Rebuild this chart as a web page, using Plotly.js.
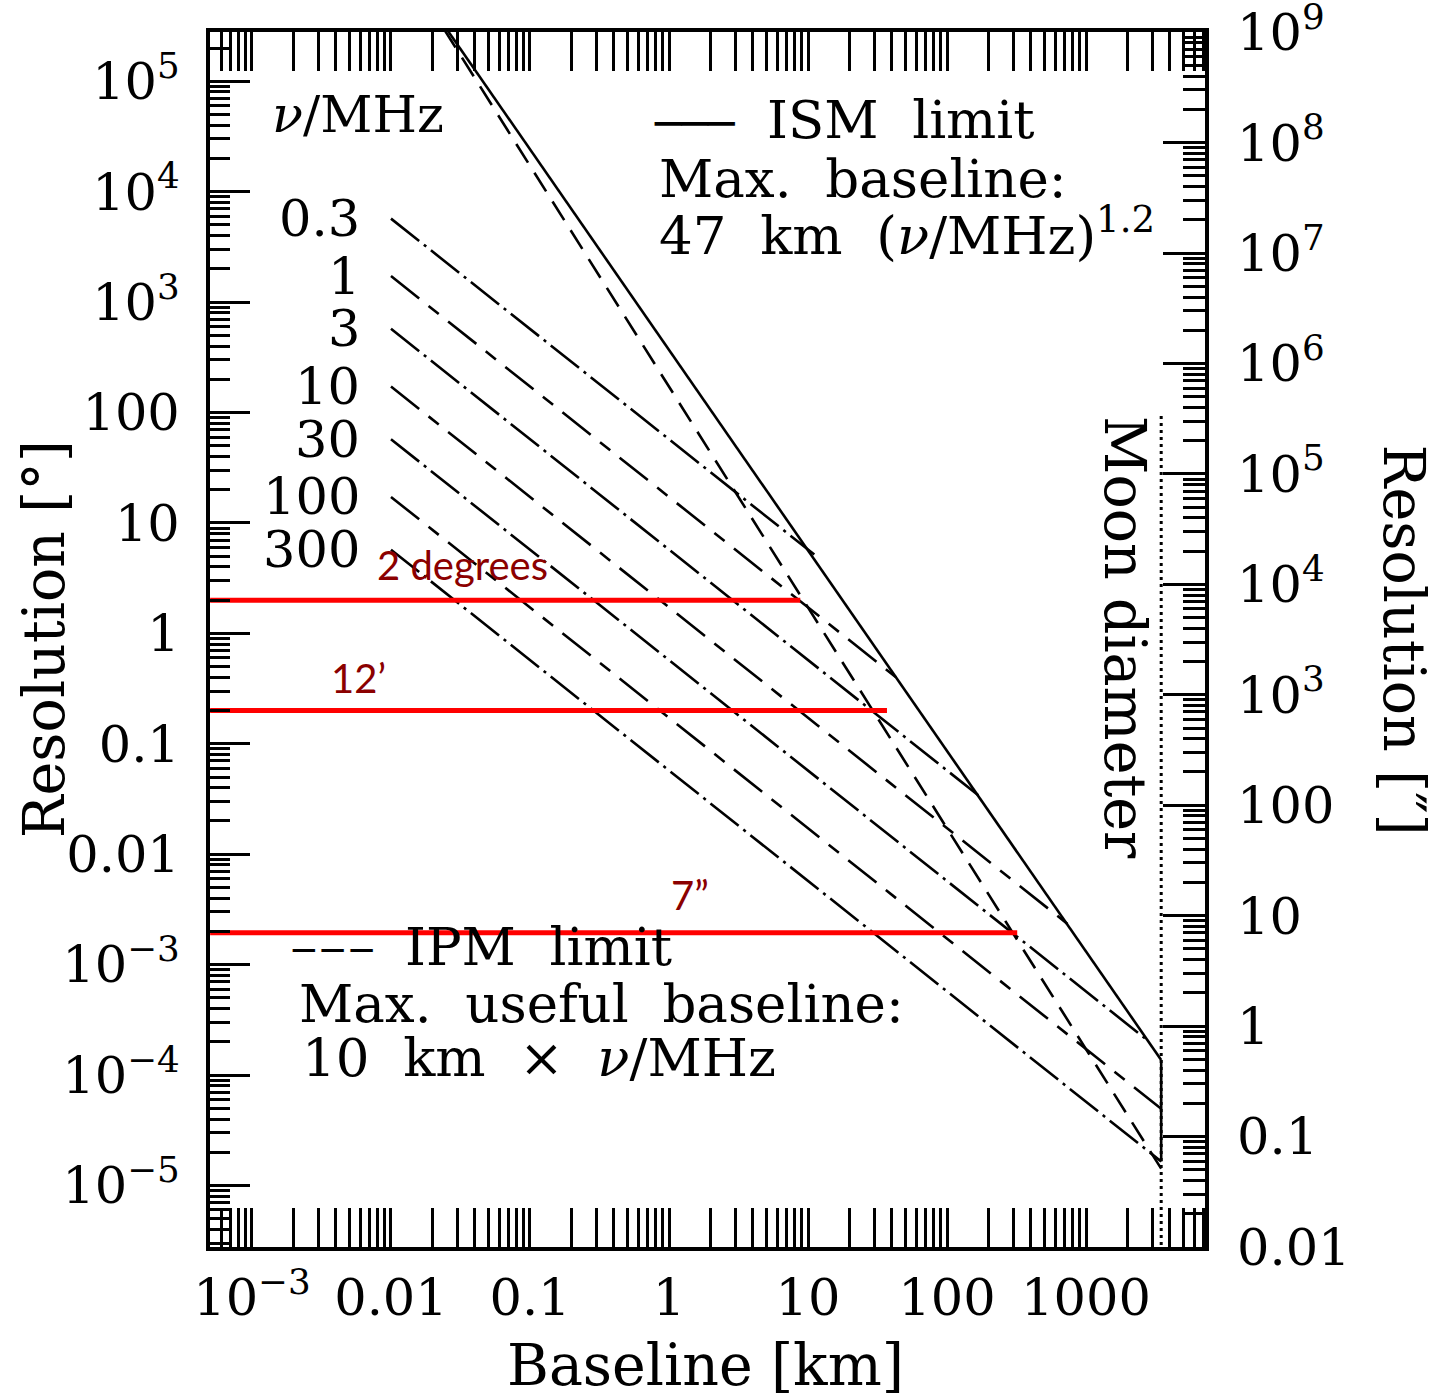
<!DOCTYPE html>
<html>
<head>
<meta charset="utf-8">
<script src="https://cdn.plot.ly/plotly-3.0.1.min.js"></script>
<style>html,body{margin:0;padding:0;background:#fff;}#chart{width:1441px;height:1399px;}</style>
</head>
<body>
<div id="chart"></div>
<script>
// ---- data ----
const freqMHz      = [0.3, 1, 3, 10, 30, 100, 300];
const freqLabels   = ['0.3', '1', '3', '10', '30', '100', '300'];
const lineStartKm  = [0.01, 0.01, 0.01, 0.01, 0.01, 0.01, 0.01];
const lineStartDeg = [5700, 1720, 573, 172, 57.3, 17.2, 5.73];
const lineEndKm    = [11.1, 47, 176, 745, 2790, 3474, 3474];
const lineEndDeg   = [5.17, 0.366, 0.0326, 0.00231, 2.05e-4, 4.95e-5, 1.65e-5];

const ismKm  = [0.025, 3474];
const ismDeg = [3.0e5, 1.37e-4];
const ipmKm  = [0.024, 3474];
const ipmDeg = [2.98e5, 1.42e-5];
const moonKm = 3474;
const moonSolidDeg  = [1.37e-4, 1.65e-5];
const moonDottedDeg = [93, 2.8e-6];

const redDeg     = [2, 0.2, 0.00194];
const redStartKm = [5e-4, 5e-4, 5e-4];
const redEndKm   = [8.8, 37, 320];
const redLabels  = ['2 degrees', '12’', '7”'];

const xTickVals = [1e-3, 1e-2, 0.1, 1, 10, 100, 1000];
const xTickText = ['10<sup>−3</sup>', '0.01', '0.1', '1', '10', '100', '1000'];
const yTickVals = [1e-5, 1e-4, 1e-3, 1e-2, 0.1, 1, 10, 100, 1e3, 1e4, 1e5];
const yTickText = ['10<sup>−5</sup>', '10<sup>−4</sup>', '10<sup>−3</sup>', '0.01', '0.1', '1', '10', '100', '10<sup>3</sup>', '10<sup>4</sup>', '10<sup>5</sup>'];
const y2TickVals = [0.01, 0.1, 1, 10, 100, 1e3, 1e4, 1e5, 1e6, 1e7, 1e8, 1e9];
const y2TickText = ['0.01', '0.1', '1', '10', '100', '10<sup>3</sup>', '10<sup>4</sup>', '10<sup>5</sup>', '10<sup>6</sup>', '10<sup>7</sup>', '10<sup>8</sup>', '10<sup>9</sup>'];

// ---- chart ----
const SERIF = 'DejaVu Serif, Liberation Serif, serif';
const xRange = [-3.302, 3.856];
const yRange = [-5.557, 5.446];
const ARCSEC = Math.log10(3600);
const y2Range = [yRange[0] + ARCSEC, yRange[1] + ARCSEC];

function minorVals(lo, hi) {
  const v = [];
  for (let e = Math.floor(lo) - 1; e <= Math.ceil(hi); e++) {
    for (let d = 2; d <= 9; d++) v.push(d * Math.pow(10, e));
  }
  return v;
}

const DASH_DOT = '36px,6px,3px,6px';
const LONG_SHORT = '36px,12px,13px,12px';

const traces = [];
freqMHz.forEach((f, i) => {
  traces.push({
    x: [lineStartKm[i], lineEndKm[i]],
    y: [lineStartDeg[i], lineEndDeg[i]],
    mode: 'lines', name: freqLabels[i] + ' MHz', showlegend: false, hoverinfo: 'skip',
    line: {color: '#000', width: 2.6, dash: i % 2 === 0 ? DASH_DOT : LONG_SHORT}
  });
});
traces.push({x: ismKm, y: ismDeg, mode: 'lines', showlegend: false, hoverinfo: 'skip',
  line: {color: '#000', width: 2.6}});
traces.push({x: [moonKm, moonKm], y: moonSolidDeg, mode: 'lines', showlegend: false, hoverinfo: 'skip',
  line: {color: '#000', width: 2.6}});
traces.push({x: ipmKm, y: ipmDeg, mode: 'lines', showlegend: false, hoverinfo: 'skip',
  line: {color: '#000', width: 2.6, dash: '22px,12px'}});
traces.push({x: [moonKm, moonKm], y: moonDottedDeg, mode: 'lines', showlegend: false, hoverinfo: 'skip',
  line: {color: '#000', width: 3, dash: '3px,4px'}});
redDeg.forEach((d, i) => {
  traces.push({x: [redStartKm[i], redEndKm[i]], y: [d, d], mode: 'lines', showlegend: false,
    hoverinfo: 'skip', line: {color: '#ff0000', width: 5}});
});
traces.push({x: [], y: [], yaxis: 'y2', mode: 'lines', showlegend: false});

const annotations = [];
function txt(text, x, y, opts) {
  annotations.push(Object.assign({
    text: text, x: x, y: y, xref: 'paper', yref: 'paper', showarrow: false,
    xanchor: 'left', yanchor: 'middle',
    font: {family: SERIF, size: 53, color: '#000'}
  }, opts || {}));
}
const titleFont = {family: SERIF, size: 57, color: '#000'};
// axis titles
txt('Resolution [°]', -0.167, 0.5, {xanchor: 'center', textangle: -90, font: titleFont});
txt('Resolution [″]', 1.2, 0.5, {xanchor: 'center', textangle: 90, font: titleFont});
txt('Baseline [km]', 0.4975, -0.097, {xanchor: 'center', font: titleFont});
txt('Moon diameter', 0.9196, 0.502, {xanchor: 'center', textangle: 90, font: titleFont});
// in-plot labels
txt('<i>ν</i>/MHz', 0.0603, 0.9317, {font: {family: SERIF, size: 51, color: '#000'}});
txt('───', 0.4874, 0.9243, {xanchor: 'center', font: {family: 'DejaVu Sans Mono, monospace', size: 44, color: '#000'}});
txt('ISM  limit', 0.5578, 0.9276);
txt('Max.  baseline:', 0.4492, 0.8798);
txt('47  km  (<i>ν</i>/MHz)<sup>1.2</sup>', 0.4492, 0.8354);
txt('─\u2009─\u2009─', 0.1236, 0.2444, {xanchor: 'center', font: {family: 'DejaVu Sans, sans-serif', size: 36, color: '#000'}});
txt('IPM  limit', 0.194, 0.2477);
txt('Max.  useful  baseline:', 0.0874, 0.2008);
txt('10  km  ×  <i>ν</i>/MHz', 0.0905, 0.1556);
// frequency labels beside line starts
freqLabels.forEach((lab, i) => {
  annotations.push({text: lab, x: -2.209, y: Math.log10(lineStartDeg[i]), xref: 'x', yref: 'y',
    showarrow: false, xanchor: 'right', yanchor: 'middle',
    font: {family: SERIF, size: 51, color: '#000'}});
});
// red labels
const redFont = {family: 'Lato, Open Sans, sans-serif', size: 40, color: '#8b0000'};
annotations.push({text: redLabels[0], x: -2.115, y: 0.615, xref: 'x', yref: 'y', showarrow: false, xanchor: 'left', yanchor: 'middle', font: redFont});
annotations.push({text: redLabels[1], x: -2.237, y: -0.407, xref: 'x', yref: 'y', showarrow: false, xanchor: 'center', yanchor: 'middle', font: redFont});
annotations.push({text: redLabels[2], x: 0.151, y: -2.369, xref: 'x', yref: 'y', showarrow: false, xanchor: 'center', yanchor: 'middle', font: redFont});

const tickFont = {family: SERIF, size: 51, color: '#000'};
const layout = {
  width: 1441, height: 1399,
  margin: {l: 210, r: 236, t: 32, b: 152, pad: 0},
  paper_bgcolor: '#fff', plot_bgcolor: '#fff',
  showlegend: false,
  xaxis: {
    type: 'log', range: xRange, showgrid: false, zeroline: false,
    showline: true, linewidth: 4, linecolor: '#000', mirror: 'allticks',
    ticks: 'inside', ticklen: 39, tickwidth: 3, tickcolor: '#000',
    tickmode: 'array', tickvals: xTickVals, ticktext: xTickText,
    tickfont: tickFont, ticklabelstandoff: 3, ticklabeloverflow: 'allow',
    minor: {ticks: 'inside', ticklen: 19, tickwidth: 3, tickcolor: '#000', showgrid: false,
      tickmode: 'array', tickvals: minorVals(xRange[0], xRange[1])}
  },
  yaxis: {
    type: 'log', range: yRange, showgrid: false, zeroline: false,
    showline: true, linewidth: 4, linecolor: '#000', mirror: true,
    ticks: 'inside', ticklen: 40, tickwidth: 3, tickcolor: '#000',
    tickmode: 'array', tickvals: yTickVals, ticktext: yTickText,
    tickfont: tickFont, ticklabelstandoff: 16, ticklabeloverflow: 'allow',
    minor: {ticks: 'inside', ticklen: 20, tickwidth: 3, tickcolor: '#000', showgrid: false,
      tickmode: 'array', tickvals: minorVals(yRange[0], yRange[1])}
  },
  yaxis2: {
    type: 'log', range: y2Range, overlaying: 'y', side: 'right', showgrid: false, zeroline: false,
    showline: false,
    ticks: 'inside', ticklen: 42, tickwidth: 3, tickcolor: '#000',
    tickmode: 'array', tickvals: y2TickVals, ticktext: y2TickText,
    tickfont: tickFont, ticklabelstandoff: 31, ticklabeloverflow: 'allow',
    minor: {ticks: 'inside', ticklen: 22, tickwidth: 3, tickcolor: '#000', showgrid: false,
      tickmode: 'array', tickvals: minorVals(y2Range[0], y2Range[1])}
  },
  annotations: annotations
};

Plotly.newPlot('chart', traces, layout, {displayModeBar: false, staticPlot: true});
</script>
</body>
</html>
